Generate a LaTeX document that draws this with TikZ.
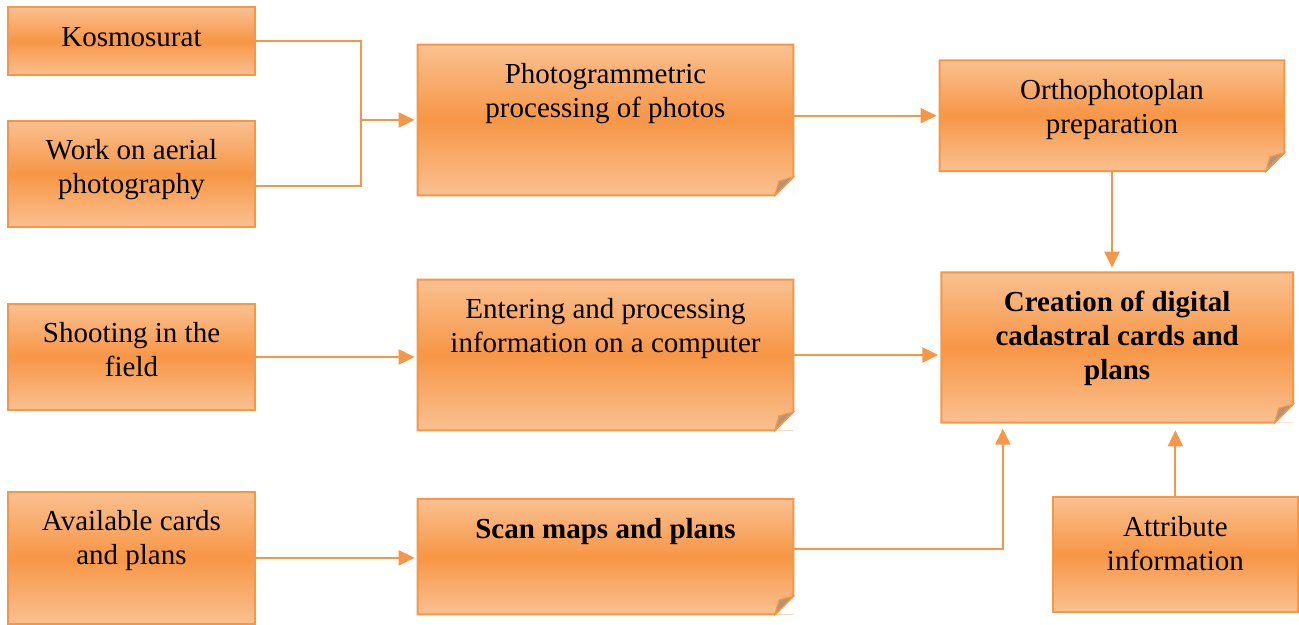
\documentclass[tikz,border=0pt]{standalone}
\usepackage{fontspec}
\setmainfont{Liberation Serif}
\usepackage{tikz}
\usetikzlibrary{positioning, arrows.meta, calc}

\definecolor{boxorange}{RGB}{247,150,70}
\definecolor{boxlight}{RGB}{250,192,144}
\definecolor{foldgray}{RGB}{176,148,124}

\tikzstyle{stage} = [rectangle, inner sep=0pt, align=flush center, text height=19.5pt, top color=boxlight, bottom color=boxlight, middle color=boxorange, font=\fontsize{14.5}{17}\selectfont]
\tikzstyle{card} = [stage, draw=boxorange, line width=1pt]
\tikzstyle{sheet} = [stage]
\tikzstyle{link} = [line width=1pt, color=boxorange]
\tikzstyle{arrow} = [link, -{Triangle[length=8pt,width=7.5pt]}, shorten >=1.5pt]

% outline of a sheet with its turned-up corner
\newcommand{\dogear}[1]{%
  \fill [white] (#1.south east) -- ([xshift=-9.25pt]#1.south east) -- ([yshift=9.25pt]#1.south east) -- cycle;
  \draw [link, line join=miter] (#1.north west) -- (#1.north east) -- ([yshift=9.25pt]#1.south east) -- ([xshift=-9.25pt]#1.south east) -- (#1.south west) -- cycle;
  \filldraw [fill=foldgray, draw=boxorange, line width=0.6pt] ([xshift=-9.25pt]#1.south east) -- ([xshift=-7.2pt,yshift=7.2pt]#1.south east) -- ([yshift=9.25pt]#1.south east) -- cycle;
}

\begin{document}
\begin{tikzpicture}[node distance=50pt]
                \useasboundingbox (-65.75pt,20.65pt) rectangle (583.75pt,-291.85pt);

                \node (kosmo) [card, text width=123.5pt, text depth=14.5pt] {Kosmosurat};
                \node (aerial) [card, below of=kosmo, yshift=-16.2pt, text width=123.5pt, text depth=33.5pt] {Work on aerial\\photography};
                \node (shooting) [card, below of=aerial, yshift=-41.65pt, text width=123.5pt, text depth=33.5pt] {Shooting in the\\field};
                \node (avail) [card, below of=shooting, yshift=-50.45pt, text width=123.5pt, text depth=46.65pt] {Available cards\\and plans};
                \node (photo) [sheet, right of=kosmo, xshift=187pt, yshift=-39.35pt, text width=187.5pt, text depth=55.5pt] {Photogrammetric\\processing of photos};
                \node (entering) [sheet, right of=shooting, xshift=187pt, yshift=1pt, text width=187.5pt, text depth=55.5pt] {Entering and processing\\information on a computer};
                \node (scan) [sheet, right of=avail, xshift=187pt, yshift=0.6pt, text width=187.5pt, text depth=37.85pt] {\textbf{Scan maps and plans}};
                \node (ortho) [sheet, right of=photo, xshift=203.25pt, yshift=2.15pt, text width=172pt, text depth=35.5pt] {Orthophotoplan\\preparation};
                \node (creation) [sheet, right of=entering, xshift=205.85pt, yshift=3.75pt, text width=175.5pt, text depth=55.3pt] {\textbf{Creation of digital}\\\textbf{cadastral cards and}\\\textbf{plans}};
                \node (attribute) [card, right of=scan, xshift=234.95pt, yshift=1.1pt, text width=122.65pt, text depth=37.7pt] {Attribute\\information};

                \dogear{photo}
                \dogear{entering}
                \dogear{scan}
                \dogear{ortho}
                \dogear{creation}

                \coordinate (bend) at (114.75pt,0pt);
                \draw [link] (kosmo.east) -- (bend) |- ([yshift=-6pt]aerial.east);
                \draw [arrow] (bend |- photo) -- (photo);
                \draw [arrow] (photo.east |- ortho) -- (ortho);
                \draw [arrow, shorten >=2.3pt] (ortho) -- (ortho.south |- creation.north);
                \draw [arrow] (shooting) -- (shooting -| entering.west);
                \draw [arrow] (entering) -- (entering -| creation.west);
                \draw [arrow] (avail) -- (avail -| scan.west);
                \draw [arrow, shorten >=3pt] ([yshift=3.75pt]scan.east) -| ([xshift=30.75pt]creation.south west);
                \draw [arrow, shorten >=3.8pt] (attribute) -- (attribute |- creation.south);
                \end{tikzpicture}
\end{document}
